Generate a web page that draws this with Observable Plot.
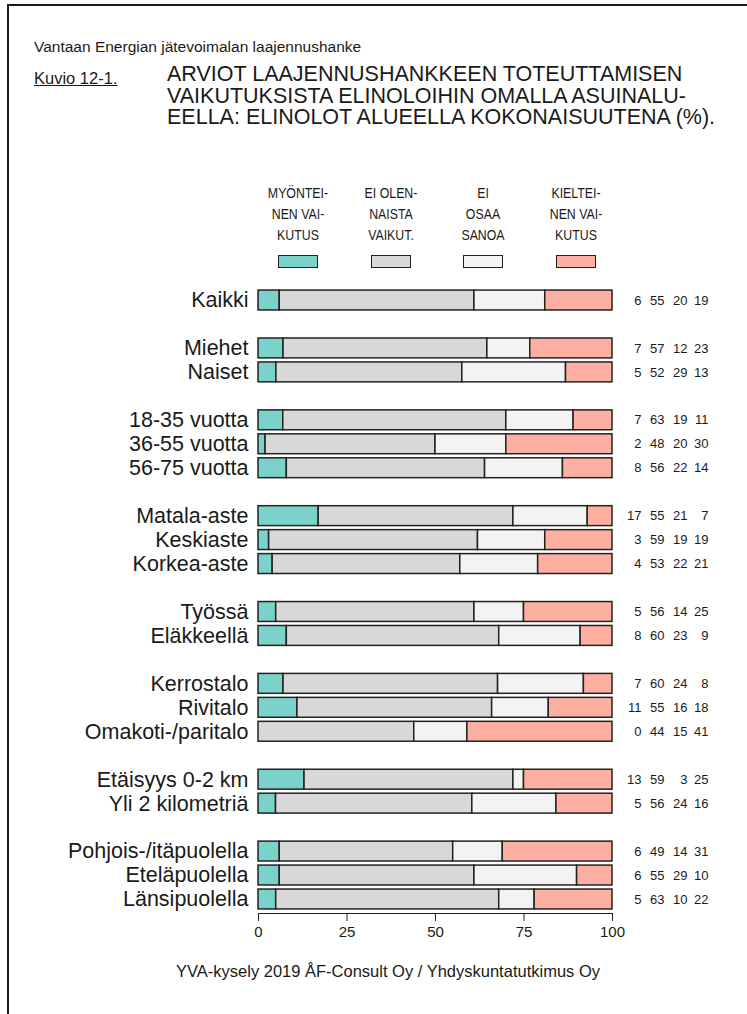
<!DOCTYPE html>
<html><head><meta charset="utf-8">
<script src="https://cdn.jsdelivr.net/npm/d3@7"></script>
<script src="https://cdn.jsdelivr.net/npm/@observablehq/plot@0.6"></script>
<style>
body{margin:0;background:#fff;font-family:"Liberation Sans",Arial,sans-serif;color:#1a1a1a}
#page{position:relative;width:747px;height:1014px;overflow:hidden}
#frame{position:absolute;left:7px;top:4px;width:900px;height:1200px;border-left:2px solid #1a1a1a;border-top:2px solid #1a1a1a}
.t{position:absolute;white-space:nowrap}
.leg{position:absolute;width:100px;text-align:center;font-size:14.5px;line-height:21px;transform:scaleX(0.85);transform-origin:50% 0}
.sw{position:absolute;width:40px;height:13px;box-sizing:border-box;border:1.5px solid #222}
</style></head><body><div id="page"><div id="frame"></div>
<div id="chart" style="position:absolute;left:0;top:230px"></div>
<div class="t" style="left:34px;top:38px;font-size:15.5px;line-height:18px">Vantaan Energian jätevoimalan laajennushanke</div>
<div class="t" style="left:34px;top:69px;font-size:16.5px;line-height:18px;text-decoration:underline">Kuvio 12-1.</div>
<div class="t" style="left:167px;top:64px;font-size:21.5px;line-height:21.5px">ARVIOT LAAJENNUSHANKKEEN TOTEUTTAMISEN<br>VAIKUTUKSISTA ELINOLOIHIN OMALLA ASUINALU-<br>EELLA: ELINOLOT ALUEELLA KOKONAISUUTENA (%).</div>
<div id="legend"></div>
<div class="t" id="caption" style="left:388px;top:962px;transform:translateX(-50%);font-size:16.5px;line-height:18px"></div>
</div>
<script>
const categories = ["Kaikki","Miehet","Naiset","18-35 vuotta","36-55 vuotta","56-75 vuotta","Matala-aste","Keskiaste","Korkea-aste","Työssä","Eläkkeellä","Kerrostalo","Rivitalo","Omakoti-/paritalo","Etäisyys 0-2 km","Yli 2 kilometriä","Pohjois-/itäpuolella","Eteläpuolella","Länsipuolella"];
const groupSizes = [1,2,3,3,2,3,2,3];
const series = ["Myönteinen vaikutus","Ei olennaista vaikutusta","Ei osaa sanoa","Kielteinen vaikutus"];
const legendLabels = [["MYÖNTEI-","NEN VAI-","KUTUS"],["EI OLEN-","NAISTA","VAIKUT."],["EI","OSAA","SANOA"],["KIELTEI-","NEN VAI-","KUTUS"]];
const positive = [6,7,5,7,2,8,17,3,4,5,8,7,11,0,13,5,6,6,5];
const neutral  = [55,57,52,63,48,56,55,59,53,56,60,60,55,44,59,56,49,55,63];
const dontKnow = [20,12,29,19,20,22,21,19,22,14,23,24,16,15,3,24,14,29,10];
const negative = [19,23,13,11,30,14,7,19,21,25,9,8,18,41,25,16,31,10,22];
const colors = ["#7ad2ca","#d8d8d8","#f3f3f3","#fdb0a2"];
const xTicks = [0,25,50,75,100];
const captionText = "YVA-kysely 2019 ÅF-Consult Oy / Yhdyskuntatutkimus Oy";

const valueSets = [positive, neutral, dontKnow, negative];

// rows with blank separators between groups
const rows = [];
let k = 0;
groupSizes.forEach((n, g) => {
  if (g > 0) rows.push("gap" + g);
  for (let i = 0; i < n; i++) rows.push(categories[k++]);
});

const table = [];
categories.forEach((c, i) => series.forEach((s, j) => table.push({cat: c, series: s, value: valueSets[j][i]})));
const rowData = categories.map((c, i) => ({cat: c, v: valueSets.map(a => a[i])}));

const numberCols = [29, 52, 75, 96];

const chart = Plot.plot({
  width: 747,
  height: 723,
  marginLeft: 258,
  marginRight: 135,
  marginTop: 56,
  marginBottom: 40,
  style: {fontFamily: "'Liberation Sans', Arial, sans-serif", background: "transparent", color: "#1a1a1a"},
  x: {domain: [0, 1]},
  y: {domain: rows, padding: 0.17, round: false},
  color: {domain: series, range: colors},
  marks: [
    Plot.barX(table, Plot.stackX({x: "value", y: "cat", fill: "series", offset: "normalize", stroke: "#222", strokeWidth: 1.5})),
    Plot.frame({anchor: "bottom", stroke: "#222", strokeWidth: 1.2}),
    Plot.axisX({ticks: xTicks.map(t => t / 100), tickFormat: d => String(Math.round(d * 100)), tickSize: 8, tickPadding: 5, fontSize: 15, label: null, stroke: "#222"}),
    Plot.axisY({tickSize: 0, tickPadding: 10, fontSize: 21.5, label: null, tickFormat: d => d.startsWith("gap") ? "" : d}),
    ...numberCols.map((dx, j) => Plot.text(rowData, {y: "cat", text: d => String(d.v[j]), frameAnchor: "right", dx, textAnchor: "end", fontSize: 13}))
  ]
});
document.getElementById("chart").appendChild(chart);

// legend
const legend = document.getElementById("legend");
series.forEach((s, i) => {
  const cx = 298 + i * 92.7;
  const lab = document.createElement("div");
  lab.className = "leg";
  lab.style.left = (cx - 50) + "px";
  lab.style.top = "183px";
  lab.innerHTML = legendLabels[i].join("<br>");
  legend.appendChild(lab);
  const sw = document.createElement("div");
  sw.className = "sw";
  sw.style.left = (cx - 20) + "px";
  sw.style.top = "255px";
  sw.style.background = colors[i];
  legend.appendChild(sw);
});
document.getElementById("caption").textContent = captionText;
</script>
</body></html>
